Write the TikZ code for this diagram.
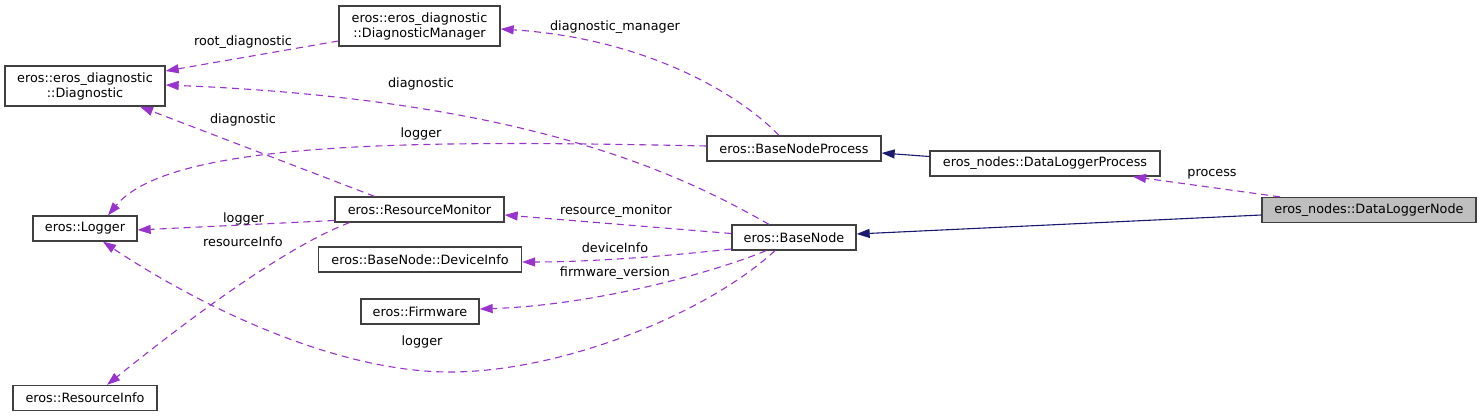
\documentclass[tikz,border=0pt]{standalone}
\usepackage{fontspec}
\setmainfont{DejaVu Sans}
\usetikzlibrary{arrows.meta}
\definecolor{edgepurple}{HTML}{9A32CD}
\definecolor{edgenavy}{HTML}{191970}
\definecolor{boxline}{HTML}{404040}
\definecolor{focusfill}{HTML}{BFBFBF}
\begin{document}
\begin{tikzpicture}[x=1pt,y=-1pt,
  font=\fontsize{12.8}{15}\selectfont,
  cls/.style={draw=boxline, line width=1.3pt, fill=white, inner sep=0pt,
              minimum height=25pt, align=center},
  cls2/.style={cls, minimum height=40pt},
  mem/.style={draw=edgepurple, line width=1.1pt, dash pattern=on 7pt off 5pt,
              -{Triangle[length=13pt,width=9pt]}, fill=none},
  inh/.style={draw=edgenavy, line width=1.1pt,
              -{Triangle[length=13pt,width=9pt]}},
  lbl/.style={inner sep=0pt, text=black}]
\useasboundingbox (0,0) rectangle (1481,417);

% classes
\node[cls2, minimum width=160pt] (diag) at (85,86) {eros::eros\_diagnostic\\::Diagnostic};
\node[cls2, minimum width=161pt] (dm) at (419.5,26) {eros::eros\_diagnostic\\::DiagnosticManager};
\node[cls, minimum width=104pt] (logger) at (85,228.5) {eros::Logger};
\node[cls, minimum width=169pt] (rm) at (419.5,209.5) {eros::ResourceMonitor};
\node[cls, minimum width=203pt] (devinfo) at (420,259.5) {eros::BaseNode::DeviceInfo};
\node[cls, minimum width=118pt] (fw) at (420,311.5) {eros::Firmware};
\node[cls, minimum width=144pt] (rinfo) at (85,398) {eros::ResourceInfo};
\node[cls, minimum width=174pt] (bnp) at (794,148.5) {eros::BaseNodeProcess};
\node[cls, minimum width=124pt] (bn) at (794,237.5) {eros::BaseNode};
\node[cls, minimum width=230pt] (dlp) at (1045,163.5) {eros\_nodes::DataLoggerProcess};
\node[cls, minimum width=214pt, fill=focusfill] (dln) at (1369,210) {eros\_nodes::DataLoggerNode};

\coordinate (lowbend) at (450,372);

% member relations
\draw[mem] ([yshift=-15pt]dm.west) -- ([yshift=15pt]diag.east);
\draw[mem] ([xshift=-15pt]bnp.north) .. controls (735,90) and (640,38) .. ([yshift=-3pt]dm.east);
\draw[mem] ([xshift=-25pt]bn.north) .. controls (690,180) and (540,100) .. ([yshift=1pt]diag.east);
\draw[mem] ([xshift=-45pt]rm.north) -- ([xshift=55pt]diag.south);
\draw[mem] ([yshift=2.5pt]bnp.west) .. controls (420,140) and (170,140) .. ([xshift=23pt]logger.north);
\draw[mem] ([yshift=-11pt]rm.west) -- ([yshift=-1.5pt]logger.east);
\draw[mem] ([xshift=-70pt]rm.south) .. controls (290,245) and (200,310) .. ([xshift=22pt]rinfo.north);
\draw[mem] ([yshift=4pt]bn.west) -- ([yshift=-5.5pt]rm.east);
\draw[mem] ([yshift=-11.5pt]bn.west) .. controls (650,258) and (580,262) .. ([yshift=-2.5pt]devinfo.east);
\draw[mem] ([xshift=-28pt]bn.south) .. controls (720,270) and (600,305) .. ([yshift=2.5pt]fw.east);
\draw[mem] ([xshift=-19pt]bn.south) .. controls (705,315) and (560,372) .. (lowbend)
           .. controls (330,372) and (190,300) .. ([xshift=18pt]logger.south);
\draw[mem] ([xshift=-89pt]dln.north) -- ([xshift=88pt]dlp.south);

% inheritance
\draw[inh] ([yshift=7pt]dlp.west) -- ([yshift=-4.5pt]bnp.east);
\draw[inh] ([yshift=-5pt]dln.west) -- ([yshift=3.5pt]bn.east);

% labels
\node[lbl] (l1) at (243,42) {root\_diagnostic};
\node[lbl] (l2) at (615,27) {diagnostic\_manager};
\node[lbl] (l3) at (421,84) {diagnostic};
\node[lbl] (l4) at (243,120) {diagnostic};
\node[lbl] (l5) at (421,134) {logger};
\node[lbl] (l6) at (243.5,219) {logger};
\node[lbl] (l7) at (243,242) {resourceInfo};
\node[lbl] (l8) at (616,211) {resource\_monitor};
\node[lbl] (l9) at (615,248) {deviceInfo};
\node[lbl] (l10) at (615,273) {firmware\_version};
\node[lbl] (l11) at (422,342) {logger};
\node[lbl] (l12) at (1212,174) {process};
\end{tikzpicture}
\end{document}
